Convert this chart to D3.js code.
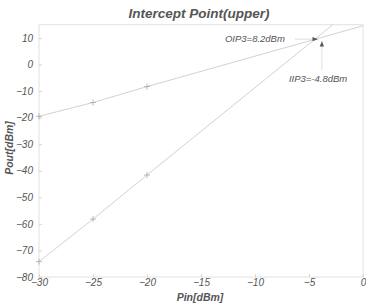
<!DOCTYPE html>
<html>
<head>
<meta charset="utf-8">
<script src="https://cdn.jsdelivr.net/npm/d3@7"></script>
<style>
  body { margin: 0; background: #fff; }
  text { font-family: "Liberation Sans", Arial, sans-serif; font-style: italic; fill: #555; }
</style>
</head>
<body>
<svg id="chart" width="366" height="303"></svg>
<script>
// fundamental (measured points + extrapolation to the right edge)
const fundPin = [-30, -25, -20, 0];
const fundPout = [-19.5, -14.3, -8.3, 14.6];
// third order intermod (measured points + extrapolation to the top)
const im3Pin = [-30, -25, -20, -2.8];
const im3Pout = [-74.2, -58.2, -41.6, 15];
const measuredCount = 3;

const xTicks = [-30, -25, -20, -15, -10, -5, 0];
const yTicks = [10, 0, -10, -20, -30, -40, -50, -60, -70, -80];

const oip3Label = 'OIP3=8.2dBm';
const iip3Label = 'IIP3=-4.8dBm';
const ip3 = {pin: -3.9, pout: 10.3};

const W = 366, H = 303;
const margin = {top: 24.7, right: 3, bottom: 26, left: 39};

const svg = d3.select('#chart');
const x = d3.scaleLinear().domain([-30, 0]).range([margin.left, W - margin.right]);
const y = d3.scaleLinear().domain([-80, 15]).range([H - margin.bottom, margin.top]);

svg.append('defs').append('marker')
  .attr('id', 'head')
  .attr('viewBox', '0 0 10 10')
  .attr('refX', 10).attr('refY', 5)
  .attr('markerWidth', 7).attr('markerHeight', 6)
  .attr('orient', 'auto')
  .append('path').attr('d', 'M0,1 L10,5 L0,9 Z').attr('fill', '#555');

// frame
svg.append('rect')
  .attr('x', x(-30)).attr('y', y(15))
  .attr('width', x(0) - x(-30)).attr('height', y(-80) - y(15))
  .attr('fill', 'none').attr('stroke', '#e2e2e2').attr('stroke-width', 1);

// axes with inward ticks
const xAxis = svg.append('g')
  .attr('transform', `translate(0,${y(-80)})`)
  .call(d3.axisBottom(x).tickValues(xTicks).tickSize(-3).tickPadding(2).tickFormat(d3.format('d')));
const yAxis = svg.append('g')
  .attr('transform', `translate(${x(-30)},0)`)
  .call(d3.axisLeft(y).tickValues(yTicks).tickSize(-3).tickPadding(6).tickFormat(d3.format('d')));
[xAxis, yAxis].forEach(a => {
  a.select('.domain').remove();
  a.selectAll('line').attr('stroke', '#d5d5d5');
  a.selectAll('text').style('font-size', '10px').attr('fill', '#555').style('font-family', '"Liberation Sans", Arial, sans-serif');
});

const line = d3.line().x(d => x(d[0])).y(d => y(d[1]));
const fund = d3.zip(fundPin, fundPout);
const im3 = d3.zip(im3Pin, im3Pout);

[fund, im3].forEach(pts => {
  svg.append('path')
    .attr('d', line(pts))
    .attr('fill', 'none').attr('stroke', '#ccc').attr('stroke-width', 0.9);
  svg.selectAll(null)
    .data(pts.slice(0, measuredCount))
    .enter().append('path')
    .attr('d', d => `M${x(d[0]) - 3},${y(d[1])}H${x(d[0]) + 3}M${x(d[0])},${y(d[1]) - 3}V${y(d[1]) + 3}`)
    .attr('stroke', '#aaa').attr('stroke-width', 0.8);
});

// annotations
svg.append('line')
  .attr('x1', x(ip3.pin) - 26).attr('y1', y(ip3.pout) + 2)
  .attr('x2', x(ip3.pin) - 3).attr('y2', y(ip3.pout) + 2)
  .attr('stroke', '#ddd').attr('stroke-width', 0.9)
  .attr('marker-end', 'url(#head)');
svg.append('text')
  .attr('x', x(ip3.pin) - 36).attr('y', y(ip3.pout) + 5)
  .attr('text-anchor', 'end')
  .style('font-size', '9.5px')
  .text(oip3Label);

svg.append('line')
  .attr('x1', x(ip3.pin) + 1).attr('y1', y(ip3.pout) + 33)
  .attr('x2', x(ip3.pin) + 1).attr('y2', y(ip3.pout) + 4)
  .attr('stroke', '#ddd').attr('stroke-width', 0.9)
  .attr('marker-end', 'url(#head)');
svg.append('text')
  .attr('x', x(ip3.pin) - 32).attr('y', y(ip3.pout) + 45)
  .style('font-size', '9.5px')
  .text(iip3Label);

// titles
svg.append('text')
  .attr('x', 199).attr('y', 18)
  .attr('text-anchor', 'middle')
  .style('font-size', '13.5px').style('font-weight', 'bold')
  .attr('fill', '#444')
  .text('Intercept Point(upper)');
svg.append('text')
  .attr('x', 200).attr('y', 301)
  .attr('text-anchor', 'middle')
  .style('font-size', '10.5px').style('font-weight', 'bold')
  .text('Pin[dBm]');
svg.append('text')
  .attr('transform', 'translate(13,148) rotate(-90)')
  .attr('text-anchor', 'middle')
  .style('font-size', '10.5px').style('font-weight', 'bold')
  .text('Pout[dBm]');
</script>
</body>
</html>
